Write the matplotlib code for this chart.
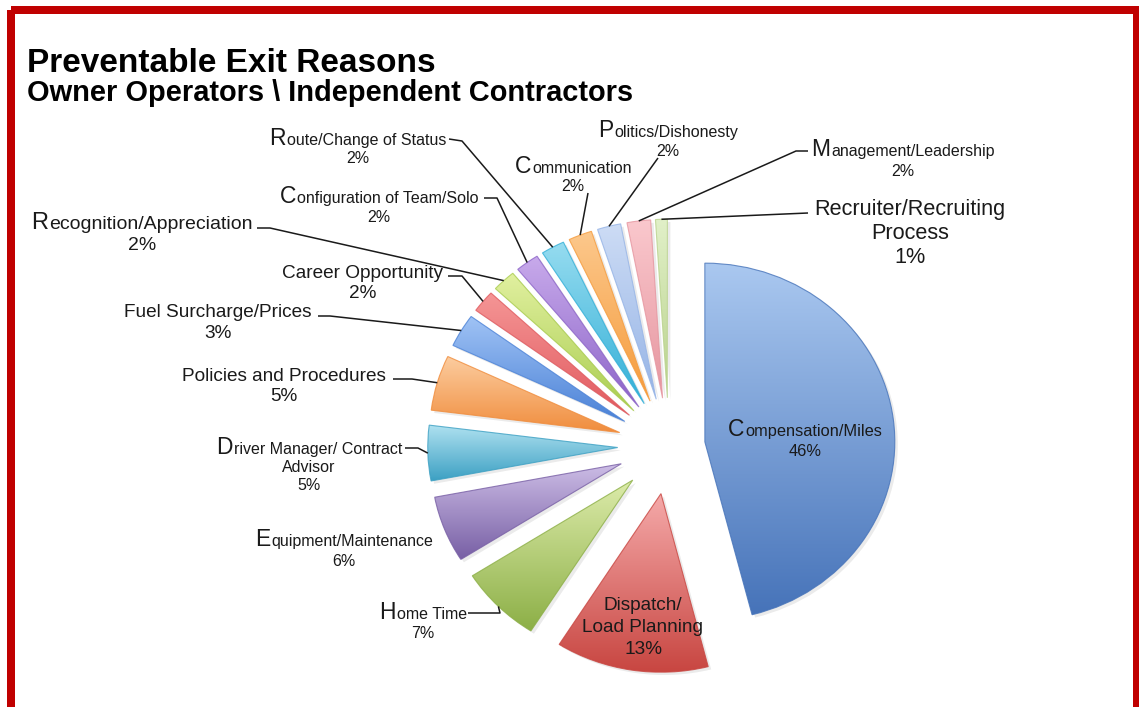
import numpy as np
import matplotlib
matplotlib.use("Agg")
import matplotlib.pyplot as plt
from matplotlib.colors import LinearSegmentedColormap
from matplotlib.font_manager import FontProperties
from matplotlib.patches import Rectangle, Wedge

plt.rcParams['font.family'] = 'Liberation Sans'

# --- data -------------------------------------------------------------
reasons = ["Compensation/Miles", "Dispatch/\nLoad Planning", "Home Time",
           "Equipment/Maintenance", "Driver Manager/ Contract\nAdvisor",
           "Policies and Procedures", "Fuel Surcharge/Prices", "Career Opportunity",
           "Recognition/Appreciation", "Configuration of Team/Solo",
           "Route/Change of Status", "Communication", "Politics/Dishonesty",
           "Management/Leadership", "Recruiter/Recruiting\nProcess"]
pct = [46, 13, 7, 6, 5, 5, 3, 2, 2, 2, 2, 2, 2, 2, 1]

# gradient colours per slice (top -> bottom)
light = ['#AAC8F0', '#F5AAAA', '#DCEBAA', '#CDBEE6', '#AFE1F0', '#FCCDA0', '#A0C3F5',
         '#F59696', '#E1F0A0', '#C8AAEB', '#96DCF0', '#FCC88C', '#CDDCF5', '#FAC8CD', '#E1F0C8']
dark = ['#4673B9', '#C84641', '#8CAF46', '#785FA5', '#3CA0C3', '#F08C3C', '#4B82D7',
        '#E15A5F', '#AACD50', '#8C64C8', '#32AFD7', '#F59B3C', '#96B4E6', '#E696A0', '#B9D28C']

# label layout: centre x, first line centre y, line step, size, initial size, leader pts
layout = [
    (805, 430, 20, 11.8, 16.5, None),
    (643, 603, 22, 13.7, None, None),
    (423, 613, 19, 11.5, 16.5, [(468, 613), (500, 613)]),
    (344, 540, 20, 11.5, 16.5, None),
    (309, 448, 18, 11.5, 16.5, [(405, 448), (418, 448)]),
    (284, 374, 20, 13.7, None, [(393, 379), (412, 379)]),
    (218, 310, 21, 13.7, None, [(318, 316), (330, 316)]),
    (363, 271, 20, 13.7, None, [(448, 276), (462, 276)]),
    (142, 222, 21, 14.0, 17.0, [(257, 228), (270, 228)]),
    (379, 197, 19, 11.5, 16.5, [(484, 198), (497, 198)]),
    (358, 139, 18, 11.5, 16.5, [(449, 139), (462, 141)]),
    (573, 167, 18, 11.5, 16.5, [(588, 193)]),
    (668, 131, 19, 11.5, 16.5, [(658, 158)]),
    (903, 150, 20, 11.5, 16.5, [(808, 151), (796, 151)]),
    (910, 207, 24, 15.6, None, [(808, 213)]),
]

W, H = 1139, 707
SY = 0.94          # slight vertical squash of the pie
RX = 190
CX, CY = 669, 446
PX = 100 / 72.0
INK = '#1a1a1a'

fig = plt.figure(figsize=(W / 100, H / 100), dpi=100)
ax1 = fig.add_axes([0, 0, 1, 1])
# pie offsets explode in data units
explode = [0.19 * RX] + [0.27 * RX] * (len(pct) - 1)
wedges, _ = ax1.pie(pct, colors=dark, startangle=90, counterclock=False, explode=explode,
                    radius=RX, center=(CX, (H - CY) / SY),
                    wedgeprops=dict(linewidth=0.8))

grad = np.linspace(0, 1, 256).reshape(-1, 1)
for i, w in enumerate(wedges):
    # faint drop shadow
    sh = Wedge((w.center[0] + 3, w.center[1] - 3), w.r, w.theta1, w.theta2,
               facecolor='black', edgecolor='none', alpha=0.08, zorder=0.5)
    ax1.add_patch(sh)
    bb = w.get_path().get_extents()
    cmap = LinearSegmentedColormap.from_list('g%d' % i, [dark[i], light[i]])
    im = ax1.imshow(grad, extent=(bb.x0, bb.x1, bb.y0, bb.y1), origin='lower', cmap=cmap,
                    aspect='auto', interpolation='bicubic', zorder=1.5)
    im.set_clip_path(w)
    w.set_facecolor('none')
    w.set_edgecolor(dark[i])
    w.set_alpha(0.8)
    w.set_zorder(2)

ax1.set_xlim(0, W)
ax1.set_ylim(0, H / SY)
ax1.set_aspect('auto')
ax1.axis('off')

# overlay axes in image pixel coordinates (y down)
ax2 = fig.add_axes([0, 0, 1, 1])
ax2.set_xlim(0, W)
ax2.set_ylim(H, 0)
ax2.axis('off')

renderer = fig.canvas.get_renderer()


def put_line(s, cx, yc, size, big=None):
    fp = FontProperties(family='Liberation Sans', size=size)
    base = yc + 0.36 * size * PX
    if big is None:
        ax2.text(cx, base, s, fontproperties=fp, ha='center', va='baseline', color=INK)
        return
    fb = FontProperties(family='Liberation Sans', size=big)
    w1 = renderer.get_text_width_height_descent(s[0], fb, ismath=False)[0]
    w2 = renderer.get_text_width_height_descent(s[1:], fp, ismath=False)[0]
    x0 = cx - (w1 + w2 + 1) / 2
    ax2.text(x0, base, s[0], fontproperties=fb, ha='left', va='baseline', color=INK)
    ax2.text(x0 + w1 + 1, base, s[1:], fontproperties=fp, ha='left', va='baseline', color=INK)


def arc_mid(w):
    t = np.deg2rad((w.theta1 + w.theta2) / 2)
    p = (w.center[0] + w.r * np.cos(t), w.center[1] + w.r * np.sin(t))
    d = ax1.transData.transform(p)
    return ax2.transData.inverted().transform(d)


for i, (name, p) in enumerate(zip(reasons, pct)):
    cx, y0, step, size, big, leader = layout[i]
    lines = name.split('\n') + ['%d%%' % p]
    for k, s in enumerate(lines):
        put_line(s, cx, y0 + k * step, size, big if (k == 0 and big) else None)
    if leader:
        end = arc_mid(wedges[i])
        xs = [q[0] for q in leader] + [end[0]]
        ys = [q[1] for q in leader] + [end[1]]
        ax2.plot(xs, ys, color=INK, lw=1.1, solid_capstyle='butt')

ax2.text(27, 72, "Preventable Exit Reasons", fontsize=24, fontweight='bold',
         ha='left', va='baseline', color='black')
ax2.text(27, 101, "Owner Operators \\ Independent Contractors", fontsize=20.9,
         fontweight='bold', ha='left', va='baseline', color='black')

ax2.add_patch(Rectangle((11, 10), 1126, 699, fill=False, edgecolor='#C00000',
                        linewidth=8 / PX, clip_on=False))

fig.savefig('out.png', dpi=100)
